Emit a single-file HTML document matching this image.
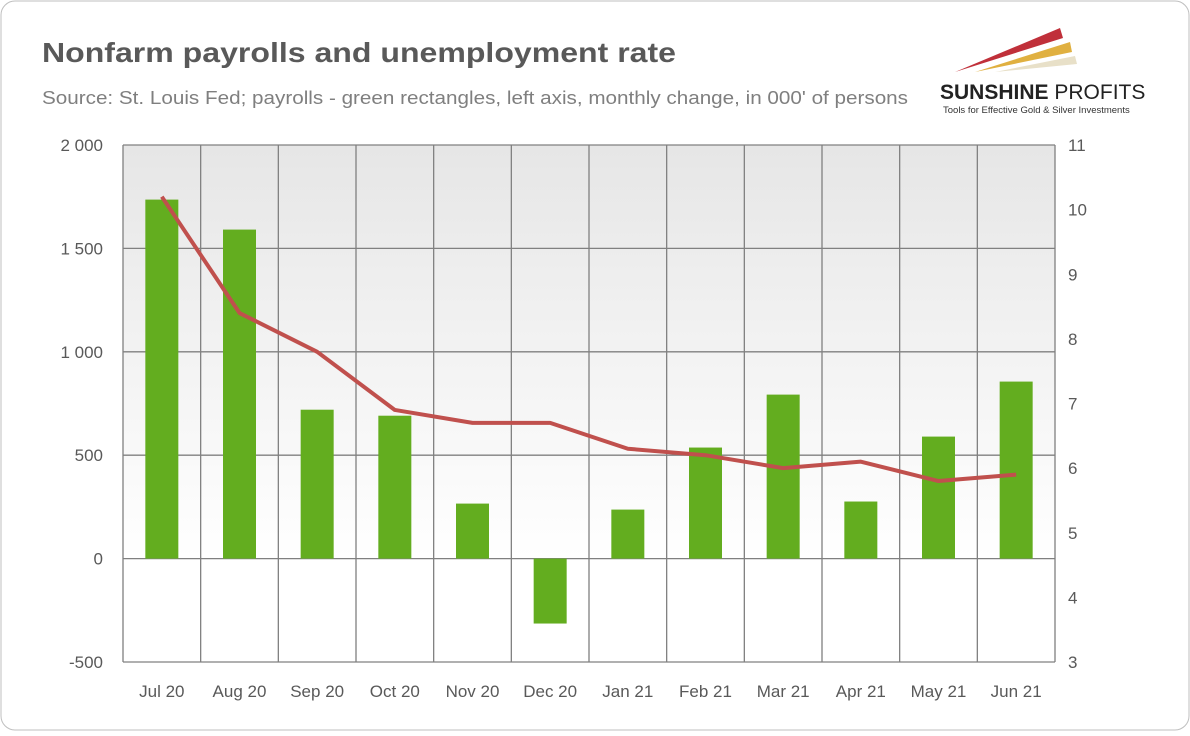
<!DOCTYPE html>
<html><head><meta charset="utf-8"><style>
body{margin:0;background:#fff;font-family:"Liberation Sans",sans-serif;}
#wrap{position:relative;width:1190px;height:731px;}
</style></head><body>
<div id="wrap">
<svg id="svg" width="1190" height="731" xmlns="http://www.w3.org/2000/svg">
<defs>
<linearGradient id="bg" x1="0" y1="0" x2="0" y2="1">
<stop offset="0" stop-color="#e6e6e6"/><stop offset="0.8" stop-color="#ffffff"/><stop offset="1" stop-color="#ffffff"/>
</linearGradient>
</defs>
<rect x="1" y="1" width="1188" height="729" rx="14" fill="#fff" stroke="#bfbfbf"/>
<text x="42" y="62" font-size="28" font-weight="bold" fill="#595959" textLength="634" lengthAdjust="spacingAndGlyphs">Nonfarm payrolls and unemployment rate</text>
<text x="42" y="104" font-size="18.5" fill="#7f7f7f" textLength="866" lengthAdjust="spacingAndGlyphs">Source: St. Louis Fed; payrolls - green rectangles, left axis, monthly change, in 000' of persons</text>
<g>
<polygon points="955,72 1060,28 1063,38" fill="#c0303a"/>
<polygon points="975,72 1070,42 1072,52" fill="#e0b040"/>
<polygon points="995,72 1075,56 1077,64" fill="#e8e0c8"/>
<text x="940" y="99" font-size="21" font-weight="bold" fill="#222">SUNSHINE <tspan font-weight="normal">PROFITS</tspan></text>
<text x="943" y="113" font-size="9.5" fill="#333">Tools for Effective Gold &amp; Silver Investments</text>
</g>
<rect x="123" y="145" width="932" height="517" fill="url(#bg)"/>
<g id="grid"></g><g id="bars"></g><g id="line"></g><g id="axes"></g>
</svg>
</div>
<script>
const categories=["Jul 20","Aug 20","Sep 20","Oct 20","Nov 20","Dec 20","Jan 21","Feb 21","Mar 21","Apr 21","May 21","Jun 21"];
const payrolls=[1736,1591,720,691,266,-314,237,537,793,276,590,856];
const unemployment=[10.2,8.4,7.8,6.9,6.7,6.7,6.3,6.2,6.0,6.1,5.8,5.9];
const leftTicks=[-500,0,500,1000,1500,2000];
const leftLabels=["-500","0","500","1 000","1 500","2 000"];
const rightTicks=[3,4,5,6,7,8,9,10,11];
const NS="http://www.w3.org/2000/svg";
const X0=123,X1=1055,Y0=145,Y1=662;
const yL=v=>Y1-(v+500)/2500*(Y1-Y0);
const yR=v=>Y1-(v-3)/8*(Y1-Y0);
const cw=(X1-X0)/categories.length;
const xc=i=>X0+cw*(i+0.5);
function mk(t,a,p){const e=document.createElementNS(NS,t);for(const k in a)e.setAttribute(k,a[k]);p.appendChild(e);return e;}
const grid=document.getElementById('grid'),axes=document.getElementById('axes');
leftTicks.forEach((v,i)=>{
 const l=mk('line',{x1:X0,x2:X1,y1:yL(v),y2:yL(v),stroke:'#808080','stroke-width':1.3},grid);
 
 
 const t=mk('text',{x:103,y:yL(v)+6,'text-anchor':'end','font-size':17,fill:'#595959'},axes);
 t.textContent=leftLabels[i];
 
 
});
for(let i=0;i<=categories.length;i++){
 const x=X0+cw*i;
 const l=mk('line',{x1:x,x2:x,y1:Y0,y2:Y1,stroke:'#808080','stroke-width':1.3},grid);
 
 
}
rightTicks.forEach(v=>{
 const t=mk('text',{x:1068,y:yR(v)+6,'font-size':17,fill:'#595959'},axes);
 t.textContent=v;
 
 
});
categories.forEach((c,i)=>{
 const t=mk('text',{x:xc(i),y:697,'text-anchor':'middle','font-size':17,fill:'#595959'},axes);
 t.textContent=c;
 
 
});
const bars=document.getElementById('bars');
payrolls.forEach((v,i)=>{
 const y=Math.min(yL(v),yL(0)),h=Math.abs(yL(v)-yL(0));
 const r=mk('rect',{x:xc(i)-16.5,y:y,width:33,height:h,fill:'#63ad1f'},bars);
 
 
});
const pts=unemployment.map((v,i)=>xc(i)+','+yR(v)).join(' ');
const pl=mk('polyline',{points:pts,fill:'none',stroke:'#c0504d','stroke-width':4,'stroke-linejoin':'round'},document.getElementById('line'));


</script>
</body></html>
